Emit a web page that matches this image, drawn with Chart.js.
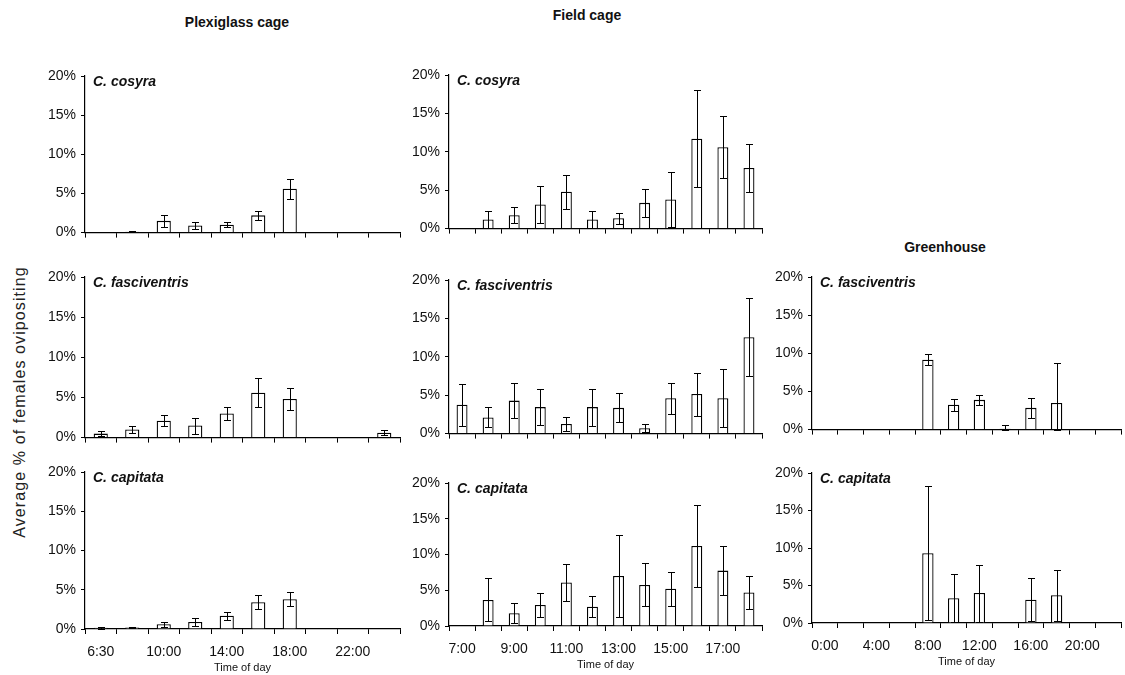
<!DOCTYPE html>
<html>
<head>
<meta charset="utf-8">
<script src="https://cdn.jsdelivr.net/npm/chart.js@4"></script>
<style>
	body { margin: 0; background: #fff; width: 1125px; height: 675px; position: relative; overflow: hidden; font-family: 'Liberation Sans', Arial, sans-serif; color: #111; }
	canvas { position: absolute; }
	.group { position: absolute; font-weight: bold; font-size: 14px; transform: translate(-50%, -50%); white-space: nowrap; }
	.species { position: absolute; font-weight: bold; font-style: italic; font-size: 14px; line-height: 16px; white-space: nowrap; }
	.ytitle { position: absolute; font-size: 16px; letter-spacing: 1.1px; white-space: nowrap; color: #222; transform: translate(-50%, -50%) rotate(-90deg); }
</style>
</head>
<body>
<div class="group" style="left:237px;top:22px">Plexiglass cage</div>
<div class="group" style="left:587px;top:15px">Field cage</div>
<div class="group" style="left:945px;top:247px">Greenhouse</div>
<div class="ytitle" style="left:20px;top:402px">Average % of females ovipositing</div>

<script>
// time bins
const plexiHours = ['6:30', '8:00', '10:00', '12:00', '14:00', '16:00', '18:00', '20:00', '22:00', '0:00']
const fieldHours = ['7:00', '8:00', '9:00', '10:00', '11:00', '12:00', '13:00', '14:00', '15:00', '16:00', '17:00', '18:00']
const greenHours = ['0:00', '2:00', '4:00', '6:00', '8:00', '10:00', '12:00', '14:00', '16:00', '18:00', '20:00', '22:00']

// Plexiglass cage (mean % and SE)
const plexiCosyra = [0, 0.1, 1.5, 0.9, 1.0, 2.2, 5.6, 0, 0, 0]
const plexiCosyraSe = [0, 0.05, 0.75, 0.4, 0.3, 0.6, 1.3, 0, 0, 0]
const plexiFasc = [0.5, 1.0, 2.1, 1.5, 3.0, 5.6, 4.8, 0, 0, 0.6]
const plexiFascSe = [0.3, 0.4, 0.7, 1.0, 0.8, 1.8, 1.4, 0, 0, 0.3]
const plexiCap = [0.15, 0.2, 0.6, 0.9, 1.7, 3.4, 3.8, 0, 0, 0]
const plexiCapSe = [0.1, 0.1, 0.3, 0.5, 0.5, 0.9, 0.9, 0, 0, 0]

// Field cage
const fieldCosyra = [0, 1.2, 1.75, 3.15, 4.8, 1.2, 1.35, 3.35, 3.8, 11.7, 10.6, 7.9]
const fieldCosyraSe = [0, 1.1, 1.05, 2.4, 2.2, 1.1, 0.7, 1.85, 3.6, 6.3, 4.0, 3.1]
const fieldFasc = [3.75, 2.1, 4.3, 3.45, 1.25, 3.45, 3.35, 0.7, 4.6, 5.15, 4.6, 12.55]
const fieldFascSe = [2.7, 1.3, 2.3, 2.3, 0.9, 2.4, 1.9, 0.5, 2.0, 2.8, 3.8, 5.1]
const fieldCap = [0, 3.65, 1.8, 2.95, 6.1, 2.7, 7.0, 5.75, 5.2, 11.2, 7.75, 4.7]
const fieldCapSe = [0, 3.0, 1.4, 1.7, 2.6, 1.5, 5.7, 3.0, 2.4, 5.7, 3.4, 2.3]

// Greenhouse
const greenFasc = [0, 0, 0, 0, 9.15, 3.25, 3.9, 0.1, 2.85, 3.5, 0, 0]
const greenFascSe = [0, 0, 0, 0, 0.7, 0.75, 0.7, 0.5, 1.35, 5.2, 0, 0]
const greenCap = [0, 0, 0, 0, 9.3, 3.3, 4.0, 0, 3.1, 3.7, 0, 0]
const greenCapSe = [0, 0, 0, 0, 8.9, 3.2, 3.8, 0, 2.85, 3.4, 0, 0]

const yTicks = [0, 5, 10, 15, 20]

const panels = [
	{ labels: plexiHours, mean: plexiCosyra, se: plexiCosyraSe, species: 'C. cosyra', L: 85, R: 400, T: 76, B: 238, last: false, bar: 0.45 },
	{ labels: plexiHours, mean: plexiFasc, se: plexiFascSe, species: 'C. fasciventris', L: 85, R: 400, T: 277, B: 443, last: false, bar: 0.45 },
	{ labels: plexiHours, mean: plexiCap, se: plexiCapSe, species: 'C. capitata', L: 85, R: 400, T: 472, B: 629, last: true, bar: 0.45 },
	{ labels: fieldHours, mean: fieldCosyra, se: fieldCosyraSe, species: 'C. cosyra', L: 449, R: 762, T: 75, B: 234, last: false, bar: 0.42 },
	{ labels: fieldHours, mean: fieldFasc, se: fieldFascSe, species: 'C. fasciventris', L: 449, R: 762, T: 280, B: 439, last: false, bar: 0.42 },
	{ labels: fieldHours, mean: fieldCap, se: fieldCapSe, species: 'C. capitata', L: 449, R: 762, T: 483, B: 626, last: true, bar: 0.42 },
	{ labels: greenHours, mean: greenFasc, se: greenFascSe, species: 'C. fasciventris', L: 812, R: 1121, T: 277, B: 435, last: false, bar: 0.44 },
	{ labels: greenHours, mean: greenCap, se: greenCapSe, species: 'C. capitata', L: 812, R: 1121, T: 473, B: 623, last: true, bar: 0.44 },
]

const errorBars = {
	id: 'errorBars',
	afterDatasetsDraw(chart) {
		const { ctx, scales: { y } } = chart
		const ds = chart.data.datasets[0]
		ctx.save()
		ctx.strokeStyle = '#000'
		ctx.lineWidth = 1
		chart.getDatasetMeta(0).data.forEach((bar, i) => {
			if (!ds.se[i]) return
			const v = ds.data[i]
			const top = Math.round(y.getPixelForValue(v + ds.se[i])) + 0.5
			const bottom = Math.round(y.getPixelForValue(Math.max(v - ds.se[i], 0))) + 0.5
			const x = Math.round(bar.x) + 0.5
			ctx.beginPath()
			ctx.moveTo(x, top)
			ctx.lineTo(x, bottom)
			ctx.moveTo(x - 3.5, top)
			ctx.lineTo(x + 3.5, top)
			ctx.moveTo(x - 3.5, bottom)
			ctx.lineTo(x + 3.5, bottom)
			ctx.stroke()
		})
		ctx.restore()
	},
}

const tickFont = { family: "'Liberation Sans', Arial, sans-serif", size: 14 }
const padTop = 14
const yWidth = 60

panels.forEach(p => {
	const xHeight = p.last ? 46 : 8
	const canvas = document.createElement('canvas')
	canvas.width = p.R - p.L + yWidth + 4
	canvas.height = padTop + (p.B - p.T) + xHeight
	canvas.style.left = (p.L - yWidth) + 'px'
	canvas.style.top = (p.T - padTop) + 'px'
	document.body.appendChild(canvas)

	const label = document.createElement('div')
	label.className = 'species'
	label.textContent = p.species
	label.style.left = (p.L + 8) + 'px'
	label.style.top = (p.T - 3) + 'px'
	document.body.appendChild(label)

	new Chart(canvas.getContext('2d'), {
		type: 'bar',
		data: {
			labels: p.labels,
			datasets: [
				{
					data: p.mean,
					se: p.se,
					backgroundColor: '#fff',
					borderColor: '#000',
					borderWidth: 1.3,
					barPercentage: p.bar,
					categoryPercentage: 1,
				},
			],
		},
		options: {
			responsive: false,
			animation: false,
			devicePixelRatio: 1,
			layout: { padding: { top: padTop, right: 4, left: 0, bottom: 0 } },
			plugins: {
				legend: { display: false },
				tooltip: { enabled: false },
			},
			scales: {
				x: {
					offset: true,
					grid: { display: true, offset: true, drawOnChartArea: false, drawTicks: true, tickLength: 5, color: '#000', lineWidth: 1 },
					border: { display: true, color: '#000', width: 1.2 },
					ticks: {
						display: p.last,
						autoSkip: false,
						maxRotation: 0,
						padding: 10,
						color: '#111',
						font: tickFont,
						callback: function (val, i) {
							return i % 2 === 0 ? this.getLabelForValue(val) : ''
						},
					},
					title: {
						display: p.last,
						text: 'Time of day',
						color: '#111',
						font: { family: "'Liberation Sans', Arial, sans-serif", size: 11 },
						padding: 0,
					},
					afterFit: s => { s.height = xHeight },
				},
				y: {
					min: 0,
					max: 20,
					afterBuildTicks: s => { s.ticks = yTicks.map(v => ({ value: v })) },
					grid: { display: true, drawOnChartArea: false, drawTicks: true, tickLength: 4, color: '#000', lineWidth: 1 },
					border: { display: true, color: '#000', width: 1.2 },
					ticks: {
						padding: 5,
						color: '#111',
						font: tickFont,
						callback: v => v + '%',
					},
					afterFit: s => { s.width = yWidth },
				},
			},
		},
		plugins: [errorBars],
	})
})
</script>
</body>
</html>
